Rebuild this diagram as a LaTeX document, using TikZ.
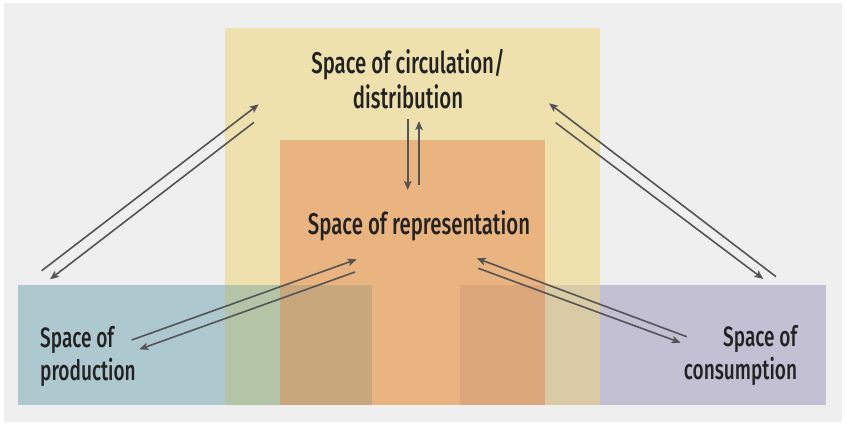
\documentclass[tikz,border=0pt]{standalone}
\usepackage{fontspec}
\setmainfont{Fira Sans}[BoldFont={Fira Sans Medium}, FakeStretch=0.68]
\usetikzlibrary{arrows.meta}

\definecolor{bggray}{HTML}{EFEFEF}
\definecolor{circyellow}{HTML}{EFE1AE}
\definecolor{reprorange}{HTML}{E9B47F}
\definecolor{prodblue}{HTML}{AEC8D0}
\definecolor{consviolet}{HTML}{C4C0D4}
\definecolor{arrowgray}{HTML}{555555}
\definecolor{textdark}{HTML}{222222}

\tikzset{
  spacelabel/.style={font=\fontsize{30}{35}\selectfont\bfseries, text=textdark, inner sep=0pt, align=center},
  sidelabel/.style={font=\fontsize{28}{33}\selectfont\bfseries, text=textdark, inner sep=0pt},
  flow/.style={draw=arrowgray, line width=1.6pt, -{Stealth[length=9pt, width=7.5pt, inset=2pt]}}
}

\begin{document}
\begin{tikzpicture}[x=1pt, y=-1pt]
  \useasboundingbox (0,0) rectangle (846,425);
  \fill[white] (0,0) rectangle (846,425);
  \fill[bggray] (4,3) rectangle (842,422);
  % the four spaces
  \fill[circyellow] (225,28) rectangle (600,405);
  \fill[reprorange] (280,140) rectangle (545,405);
  \fill[prodblue] (18,285) rectangle (225,405);
  \fill[consviolet] (600,285) rectangle (826,405);
  % overlaps
  \fill[fill={rgb,255:red,179;green,196;blue,167}] (225,285) rectangle (280,405);
  \fill[fill={rgb,255:red,201;green,167;blue,124}] (280,285) rectangle (372,405);
  \fill[fill={rgb,255:red,219;green,166;blue,122}] (460,285) rectangle (545,405);
  \fill[fill={rgb,255:red,217;green,203;blue,165}] (545,285) rectangle (600,405);

  % labels (base = last line)
  \node[spacelabel, anchor=base] (circ) at (408,108.3) {Space of circulation/\\distribution};
  \node[spacelabel, anchor=base] (repr) at (419,234.3) {Space of representation};
  \node[sidelabel, anchor=base west, align=left] (prod) at (40,380) {Space of\\production};
  \node[sidelabel, anchor=base east, align=right] (cons) at (797.3,379.3) {Space of\\consumption};

  % arrow ends
  \coordinate (PCa) at (41.7,270.7);  \coordinate (PCb) at (258.7,104.3);
  \coordinate (CPa) at (254,122.3);   \coordinate (CPb) at (50,279.3);
  \coordinate (KCa) at (776,276.7);   \coordinate (KCb) at (549,103.3);
  \coordinate (CKa) at (555.7,122.7); \coordinate (CKb) at (763.3,279);
  \coordinate (CRa) at (407.7,119);   \coordinate (CRb) at (407.7,190);
  \coordinate (RCa) at (419,185);     \coordinate (RCb) at (419,121);
  \coordinate (PRa) at (131.7,340);   \coordinate (PRb) at (356.7,259.3);
  \coordinate (RPa) at (355,272);     \coordinate (RPb) at (139.3,349.3);
  \coordinate (KRa) at (686.7,336.7); \coordinate (KRb) at (476.7,258.3);
  \coordinate (RKa) at (478.3,268.3); \coordinate (RKb) at (680.7,342.7);

  \draw[flow] (PCa) -- (PCb);
  \draw[flow] (CPa) -- (CPb);
  \draw[flow] (KCa) -- (KCb);
  \draw[flow] (CKa) -- (CKb);
  \draw[flow] (CRa) -- (CRb);
  \draw[flow] (RCa) -- (RCb);
  \draw[flow] (PRa) -- (PRb);
  \draw[flow] (RPa) -- (RPb);
  \draw[flow] (KRa) -- (KRb);
  \draw[flow] (RKa) -- (RKb);
\end{tikzpicture}
\end{document}
